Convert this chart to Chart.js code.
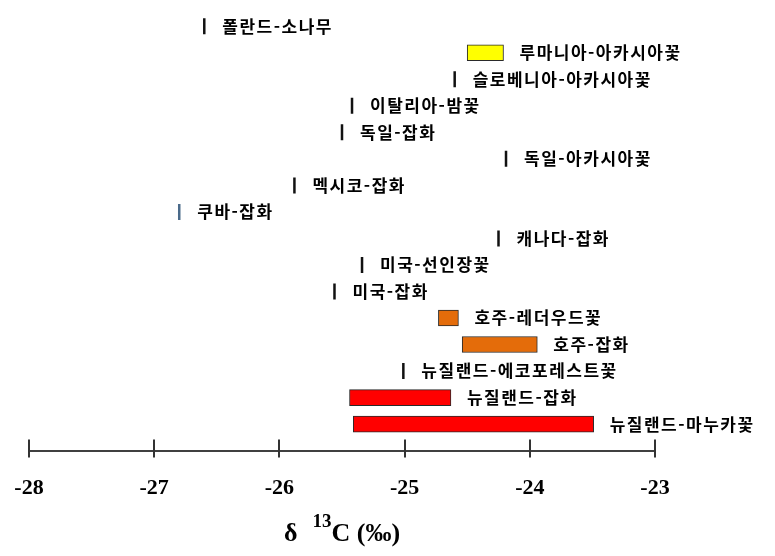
<!DOCTYPE html>
<html lang="ko">
<head>
<meta charset="utf-8">
<script src="https://cdn.jsdelivr.net/npm/chart.js@4.4.1/dist/chart.umd.min.js"></script>
<style>
  html, body { margin: 0; padding: 0; background: #fff; }
  #wrap { width: 775px; height: 556px; }
</style>
</head>
<body>
<div id="wrap"><canvas id="chart"></canvas></div>
<script>
// δ13C 범위 (산지-밀원). 시작 = 끝 이면 단일 값(세로 눈금선으로 표시).
const labels = [
  "폴란드-소나무", "루마니아-아카시아꽃", "슬로베니아-아카시아꽃", "이탈리아-밤꽃",
  "독일-잡화", "독일-아카시아꽃", "멕시코-잡화", "쿠바-잡화",
  "캐나다-잡화", "미국-선인장꽃", "미국-잡화", "호주-레더우드꽃",
  "호주-잡화", "뉴질랜드-에코포레스트꽃", "뉴질랜드-잡화", "뉴질랜드-마누카꽃",
];
const rangeStart = [
  -26.60, -24.50, -24.60, -25.42, -25.50, -24.19, -25.88, -26.80,
  -24.25, -25.34, -25.56, -24.73, -24.54, -25.01, -25.44, -25.41,
];
const rangeEnd = [
  -26.60, -24.21, -24.60, -25.42, -25.50, -24.19, -25.88, -26.80,
  -24.25, -25.34, -25.56, -24.57, -23.94, -25.01, -24.63, -23.49,
];
const xTicks = [-28, -27, -26, -25, -24, -23];

// 막대 색은 산지별
function colorFor(label) {
  if (label.startsWith("루마니아")) return "#ffff00";
  if (label.startsWith("호주")) return "#e46c0a";
  if (label.startsWith("뉴질랜드")) return "#ff0000";
  return "#000";
}

const idx = labels.map((_, i) => i);
const rangeRows = idx.filter((i) => rangeStart[i] !== rangeEnd[i]);
const singleRows = idx.filter((i) => rangeStart[i] === rangeEnd[i]);

// 각 막대/눈금 오른쪽에 이름 쓰기
const rowLabels = {
  id: "rowLabels",
  afterDatasetsDraw(chart) {
    const { ctx, scales: { x, y } } = chart;
    ctx.save();
    ctx.font = 'bold 17px "Noto Sans CJK KR", sans-serif';
    ctx.letterSpacing = "1.5px";
    ctx.fillStyle = "#000";
    ctx.textBaseline = "middle";
    ctx.textAlign = "left";
    labels.forEach((txt, i) => {
      const single = rangeStart[i] === rangeEnd[i];
      const px = x.getPixelForValue(rangeEnd[i]) + (single ? 18 : 16);
      ctx.fillText(txt, px, y.getPixelForValue(i));
    });
    ctx.restore();
  },
};

// 축 눈금(선을 가로지름)과 축 제목 δ13C (‰)
const axisDecor = {
  id: "axisDecor",
  afterDraw(chart) {
    const { ctx, chartArea, scales: { x } } = chart;
    ctx.save();
    ctx.strokeStyle = "#333";
    ctx.lineWidth = 2;
    x.ticks.forEach((t) => {
      const px = Math.round(x.getPixelForValue(t.value));
      ctx.beginPath();
      ctx.moveTo(px, chartArea.bottom - 11);
      ctx.lineTo(px, chartArea.bottom + 7);
      ctx.stroke();
    });

    const big = 'bold 26px "Liberation Serif", serif';
    const small = 'bold 19px "Liberation Serif", serif';
    const gap = 15;
    ctx.fillStyle = "#000";
    ctx.textBaseline = "alphabetic";
    ctx.textAlign = "left";
    ctx.font = big;
    const wD = ctx.measureText("δ").width;
    const wC = ctx.measureText("C (‰)").width;
    ctx.font = small;
    const wS = ctx.measureText("13").width;
    const total = wD + gap + wS + wC;
    let cx = (chartArea.left + chartArea.right) / 2 - total / 2;
    const base = 541;
    ctx.font = big;
    ctx.fillText("δ", cx, base);
    cx += wD + gap;
    ctx.font = small;
    ctx.fillText("13", cx, base - 14);
    cx += wS;
    ctx.font = big;
    ctx.fillText("C (‰)", cx, base);
    ctx.restore();
  },
};

new Chart(document.getElementById("chart"), {
  type: "bar",
  data: {
    datasets: [
      {
        type: "bar",
        data: rangeRows.map((i) => ({ x: [rangeStart[i], rangeEnd[i]], y: i })),
        backgroundColor: rangeRows.map((i) => colorFor(labels[i])),
        borderColor: "#2a2a2a",
        borderWidth: 1,
        borderSkipped: false,
        barThickness: 16,
      },
      {
        type: "scatter",
        data: singleRows.map((i) => ({ x: rangeStart[i], y: i })),
        pointStyle: "line",
        rotation: 90,
        radius: 8,
        hoverRadius: 8,
        borderWidth: 2.5,
        borderColor: singleRows.map((i) => (labels[i] === "쿠바-잡화" ? "#4a6a8a" : "#111")),
      },
    ],
  },
  options: {
    indexAxis: "y",
    responsive: true,
    maintainAspectRatio: false,
    animation: false,
    layout: { padding: { left: 29, right: 120, top: 13, bottom: 51 } },
    plugins: { legend: { display: false }, tooltip: { enabled: false } },
    scales: {
      x: {
        type: "linear",
        min: -28,
        max: -23,
        afterBuildTicks: (s) => { s.ticks = xTicks.map((v) => ({ value: v })); },
        grid: { display: false, drawTicks: true, tickLength: 22 },
        border: { display: true, color: "#404040", width: 2 },
        ticks: {
          padding: 3,
          color: "#000",
          font: { family: '"Liberation Serif", serif', size: 22, weight: "bold" },
        },
      },
      y: {
        type: "linear",
        min: -0.5,
        max: 16,
        offset: false,
        reverse: true,
        display: false,
      },
    },
  },
  plugins: [rowLabels, axisDecor],
});
</script>
</body>
</html>
